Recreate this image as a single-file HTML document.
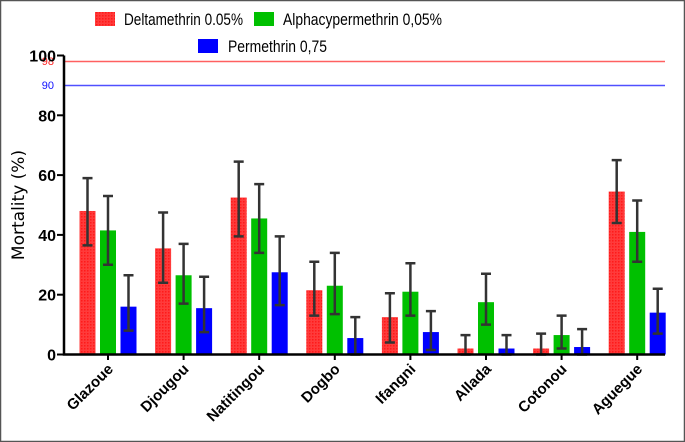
<!DOCTYPE html>
<html><head><meta charset="utf-8"><style>
body{margin:0;background:#fff}
svg{display:block;font-family:"Liberation Sans",sans-serif}
</style></head><body>
<svg width="685" height="442" xmlns="http://www.w3.org/2000/svg">
<rect x="0.5" y="0.5" width="684" height="441" fill="#fff" stroke="#555" stroke-width="1.5"/>
<defs><pattern id="chk" width="3" height="3" patternUnits="userSpaceOnUse"><rect width="3" height="3" fill="#ff3b3b"/><rect width="1.5" height="1.5" fill="#ff1a1a"/></pattern></defs>
<g>
<rect x="95" y="12" width="20" height="14" fill="url(#chk)"/>
<text x="124" y="25" font-size="17" textLength="119" lengthAdjust="spacingAndGlyphs">Deltamethrin 0.05%</text>
<rect x="254" y="12" width="20" height="14" fill="#00c000"/>
<text x="283" y="25" font-size="17" textLength="159" lengthAdjust="spacingAndGlyphs">Alphacypermethrin 0,05%</text>
<rect x="198" y="39" width="20" height="14" fill="#0000ff"/>
<text x="228" y="52" font-size="17" textLength="99" lengthAdjust="spacingAndGlyphs">Permethrin 0,75</text>
</g>
<text transform="translate(24,205) rotate(-90)" text-anchor="middle" font-size="17" font-family="'DejaVu Sans',sans-serif">Mortality (%)</text>
<g id="plot"></g>
</svg>
<script>
const categories=["Glazoue","Djougou","Natitingou","Dogbo","Ifangni","Allada","Cotonou","Aguegue"];
const delta=[48,35.5,52.5,21.5,12.5,2,2,54.5];
const deltaLo=[36.5,24,39.5,13,4,0,0,44];
const deltaHi=[59,47.5,64.5,31,20.5,6.5,7,65];
const alpha=[41.5,26.5,45.5,23,21,17.5,6.5,41];
const alphaLo=[30,17,34,13.5,13,10,2,31];
const alphaHi=[53,37,57,34,30.5,27,13,51.5];
const perm=[16,15.5,27.5,5.5,7.5,2,2.5,14];
const permLo=[8,7.5,16.5,0,1.5,0,0,7];
const permHi=[26.5,26,39.5,12.5,14.5,6.5,8.5,22];
const yTicks=[0,20,40,60,80,100];
const refLines=[98,90];
const NS="http://www.w3.org/2000/svg";
const g=document.getElementById('plot');
const y=v=>354.5-v*2.99;
const x=i=>108+i*75.6;
function mk(t,a){const e=document.createElementNS(NS,t);for(const k in a)e.setAttribute(k,a[k]);g.appendChild(e);return e;}
refLines.forEach((r,i)=>{
 const col=i==0?'#ff6060':'#5050ff';
 const tcol=i==0?'#ff2020':'#1010ff';
 const ly=Math.round(y(r));
 const l=mk('rect',{x:64,y:ly-0.25,width:601,height:1.5});
 l.style.fill=col;
 
 
 const t=mk('text',{x:54,y:ly+4,'text-anchor':'end','font-size':11});
 t.style.fill=tcol;
 t.textContent=r;
 
 
});
const series=[[delta,deltaLo,deltaHi,'url(#chk)','deltamethrin',-20.5],[alpha,alphaLo,alphaHi,'#00c000','alphacypermethrin',0],[perm,permLo,permHi,'#0000ff','permethrin',20.5]];
categories.forEach((c,i)=>{
 series.forEach(s=>{
  const cx=x(i)+s[5];
  const b=mk('rect',{x:cx-8,y:y(s[0][i]),width:16,height:y(0)-y(s[0][i]),fill:s[3]});
  
  
  const lo=y(s[1][i]),hi=y(s[2][i]);
  const e=mk('path',{d:`M${cx},${lo}V${hi}M${cx-5},${hi}H${cx+5}M${cx-5},${lo}H${cx+5}`,stroke:'#333','stroke-width':2.5,fill:'none'});
  
  
 });
 const tk=mk('line',{x1:x(i),x2:x(i),y1:354,y2:360,stroke:'#000','stroke-width':2});
 
 
 const t=mk('text',{transform:`translate(${x(i)+6},370) rotate(-45)`,'text-anchor':'end','font-size':15,'font-weight':'bold'});
 t.textContent=c;
 
 
});
yTicks.forEach(v=>{
 const l=mk('line',{x1:57,x2:64,y1:y(v),y2:y(v),stroke:'#000','stroke-width':2});
 
 
 const t=mk('text',{x:56,y:y(v)+6,'text-anchor':'end','font-size':16,'font-weight':'bold'});
 t.textContent=v;
 
 
});
const ax=mk('path',{d:`M64,${y(100)}V${y(0)}H665`,stroke:'#000','stroke-width':2.5,fill:'none'});


</script>
</body></html>
